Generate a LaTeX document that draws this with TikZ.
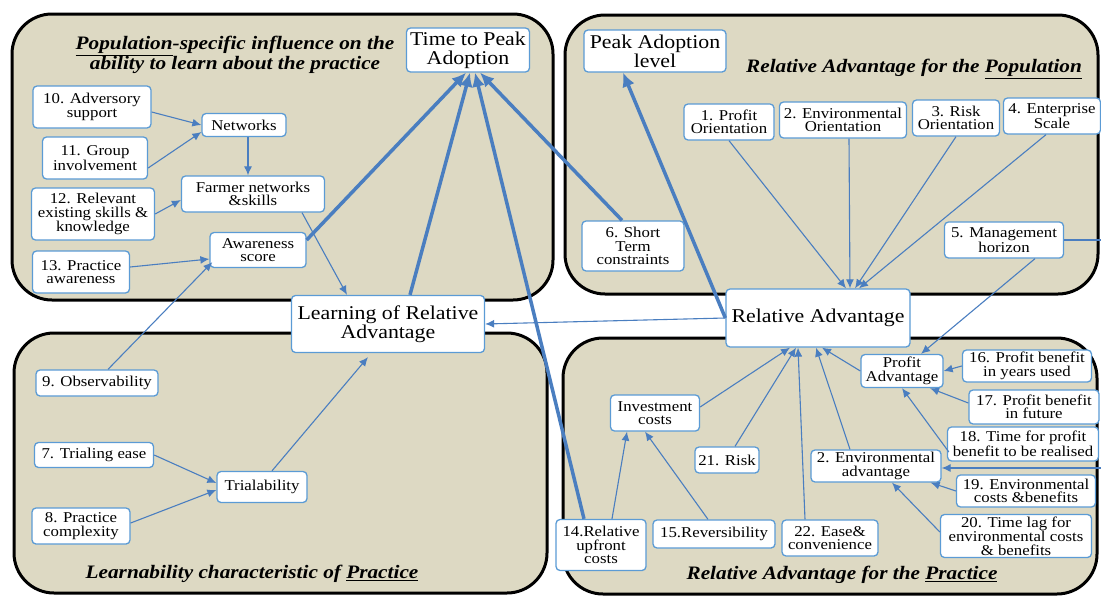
\documentclass[tikz,border=0pt]{standalone}
\usepackage{fontspec}
\setmainfont{Liberation Serif}[FakeStretch=1.12]
\usetikzlibrary{arrows.meta,positioning}
\definecolor{boxblue}{RGB}{91,155,213}
\definecolor{linkblue}{RGB}{74,126,192}
\definecolor{panelbeige}{RGB}{221,217,195}

\begin{document}
\begin{tikzpicture}[x=1pt,y=-1pt,
    panel/.style={draw=black, line width=3pt, fill=panelbeige, rounded corners=40pt},
    box/.style={draw=boxblue, line width=1.3pt, fill=white, rounded corners=4pt, align=center, inner sep=1pt, font=\fontsize{15}{13.5}\selectfont},
    bigbox/.style={box, font=\fontsize{19.5}{19}\selectfont},
    paneltitle/.style={align=center, font=\fontsize{19}{19.5}\selectfont\bfseries\itshape},
    link/.style={-{Latex[length=9pt,width=8pt]}, draw=linkblue, line width=1.1pt},
    mainlink/.style={-{Latex[length=14pt,width=13pt]}, draw=linkblue, line width=3.5pt}]
    \useasboundingbox (0,0) rectangle (1101,597);

    % the four areas
    \draw[panel] (12,14) rectangle (553,300);
    \draw[panel] (565,15) rectangle (1098,294);
    \draw[panel] (14,333) rectangle (547,593);
    \draw[panel] (563,338) rectangle (1097,594);

    \node[paneltitle] (tltitle) at (235,55) {\underline{Population}-specific influence on the\\ability to learn about the practice};
    \node[paneltitle] (trtitle) at (914,69) {Relative Advantage for the \underline{Population}};
    \node[paneltitle] (bltitle) at (252,574) {Learnability characteristic of \underline{Practice}};
    \node[paneltitle] (brtitle) at (842,575) {Relative Advantage for the \underline{Practice}};

    % outcome nodes
    \node[bigbox, minimum width=123pt, minimum height=44pt] (ttpa) at (468,50) {Time to Peak\\Adoption};
    \node[bigbox, minimum width=142pt, minimum height=42pt] (pal) at (655,51) {Peak Adoption\\level};
    \node[bigbox, minimum width=193pt, minimum height=57pt] (lra) at (388,324) {Learning of Relative\\Advantage};
    \node[bigbox, minimum width=184pt, minimum height=58pt] (ra) at (818,318) {Relative Advantage};

    % population learning
    \node[box, minimum width=118pt, minimum height=42pt] (n10) at (92,107) {10. Adversory\\support};
    \node[box, minimum width=84pt, minimum height=23pt] (netw) at (244,125) {Networks};
    \node[box, minimum width=105pt, minimum height=42pt] (n11) at (95,158) {11. Group\\involvement};
    \node[box, minimum width=143pt, minimum height=36pt] (fns) at (253,194) {Farmer networks\\\&skills};
    \node[box, minimum width=123pt, minimum height=52pt] (n12) at (93,214) {12. Relevant\\existing skills \&\\knowledge};
    \node[box, minimum width=96pt, minimum height=35pt] (aws) at (258,250) {Awareness\\score};
    \node[box, minimum width=97pt, minimum height=42pt] (n13) at (81,272) {13. Practice\\awareness};

    % practice learnability
    \node[box, minimum width=122pt, minimum height=26pt] (n9) at (97,383) {9. Observability};
    \node[box, minimum width=119pt, minimum height=25pt] (n7) at (94,455) {7. Trialing ease};
    \node[box, minimum width=90pt, minimum height=31pt] (trial) at (262,487) {Trialability};
    \node[box, minimum width=98pt, minimum height=36pt] (n8) at (81,526) {8. Practice\\complexity};

    % population advantage
    \node[box, minimum width=90pt, minimum height=36pt] (n1) at (729,122) {1. Profit\\Orientation};
    \node[box, minimum width=127pt, minimum height=36pt] (n2o) at (843,120) {2. Environmental\\Orientation};
    \node[box, minimum width=87pt, minimum height=36pt] (n3) at (956,118) {3. Risk\\Orientation};
    \node[box, minimum width=97pt, minimum height=36pt] (n4) at (1052,116) {4. Enterprise\\Scale};
    \node[box, minimum width=119pt, minimum height=36pt] (n5) at (1004,240) {5. Management\\horizon};
    \node[box, minimum width=102pt, minimum height=50pt] (n6) at (633,246) {6. Short\\Term\\constraints};

    % practice advantage
    \node[box, minimum width=82pt, minimum height=33pt] (pa) at (902,371) {Profit\\Advantage};
    \node[box, minimum width=129pt, minimum height=32pt] (n16) at (1027,366) {16. Profit benefit\\in years used};
    \node[box, minimum width=130pt, minimum height=34pt] (n17) at (1034,407) {17. Profit benefit\\in future};
    \node[box, minimum width=151pt, minimum height=34pt] (n18) at (1023,444) {18. Time for profit\\benefit to be realised};
    \node[box, minimum width=89pt, minimum height=36pt] (ic) at (655,413) {Investment\\costs};
    \node[box, minimum width=64pt, minimum height=26pt] (n21) at (727,460) {21. Risk};
    \node[box, minimum width=130pt, minimum height=32pt] (ea) at (876,466) {2. Environmental\\advantage};
    \node[box, minimum width=139pt, minimum height=32pt] (n19) at (1026,491) {19. Environmental\\costs \&benefits};
    \node[box, minimum width=151pt, minimum height=43pt] (n20) at (1016,536) {20. Time lag for\\environmental costs\\\& benefits};
    \node[box, minimum width=90pt, minimum height=51pt] (n14) at (601,545) {14.Relative\\upfront\\costs};
    \node[box, minimum width=122pt, minimum height=28pt] (n15) at (714,534) {15.Reversibility};
    \node[box, minimum width=96pt, minimum height=36pt] (n22) at (830,538) {22. Ease\&\\convenience};

    \coordinate (rimtop) at (1101,240);
    \coordinate (rimbot) at (1101,468);

    % thin links
    \draw[link] ([yshift=-5pt]n10.east) -- (netw.west);
    \draw[link] ([yshift=-10pt]n11.east) -- ([yshift=-7pt]netw.west);
    \draw[link] ([xshift=4pt]netw.south) -- ([xshift=-5pt]fns.north);
    \draw[link] (n12.east) -- ([yshift=-6pt]fns.west);
    \draw[link] ([xshift=49pt]fns.south) -- ([xshift=-41pt]lra.north);
    \draw[link] ([yshift=5pt]n13.east) -- ([yshift=-9pt]aws.west);
    \draw[link] ([xshift=11pt]n9.north) -- ([xshift=3pt,yshift=6pt]aws.south west);
    \draw[link] (n7.east) -- ([yshift=4pt]trial.west);
    \draw[link] ([yshift=3pt]n8.east) -- ([yshift=-3pt]trial.west);
    \draw[link] ([xshift=10pt]trial.north) -- ([xshift=-20pt,yshift=-4pt]lra.south);
    \draw[link] (ra.west) -- (lra.east);
    \draw[link] (n1.south) -- ([xshift=28pt]ra.north);
    \draw[link] ([xshift=6pt]n2o.south) -- ([xshift=32pt]ra.north);
    \draw[link] (n3.south) -- ([xshift=37pt]ra.north);
    \draw[link] ([xshift=-6pt]n4.south) -- ([xshift=41pt]ra.north);
    \draw[draw=linkblue, line width=1.1pt] (rimtop) -- (n5.east);
    \draw[link] ([xshift=31pt]n5.south) -- ([xshift=19pt]pa.north);
    \draw[link] (n16.west) -- (pa.east);
    \draw[link] ([yshift=4pt]n17.west) -- ([xshift=28pt]pa.south);
    \draw[link] ([xshift=2pt,yshift=-8pt]n18.west) -- (pa.south);
    \draw[link] (pa.west) -- ([xshift=4pt]ra.south);
    \draw[link] ([xshift=-26pt]ea.north) -- ([xshift=-2pt]ra.south);
    \draw[link] ([xshift=-25pt]n22.north) -- ([xshift=-20pt]ra.south);
    \draw[link] ([xshift=8pt]n21.north) -- ([xshift=-22pt]ra.south);
    \draw[link] ([yshift=6pt]ic.east) -- ([xshift=-28pt]ra.south);
    \draw[link] ([xshift=11pt]n14.north) -- ([xshift=-28pt]ic.south);
    \draw[link] ([xshift=-6pt]n15.north) -- ([xshift=-10pt]ic.south);
    \draw[link] (rimbot) -- ([yshift=-2pt]ea.east);
    \draw[link] (n19.west) -- ([xshift=-11pt]ea.south east);
    \draw[link] ([yshift=4pt]n20.west) -- ([xshift=16pt]ea.south);

    % thick links
    \draw[mainlink] ([yshift=10pt]aws.east) -- ([xshift=-2pt]ttpa.south);
    \draw[mainlink] ([xshift=22pt]lra.north) -- ([xshift=2pt]ttpa.south);
    \draw[mainlink] ([xshift=-17pt]n14.north) -- ([xshift=7pt]ttpa.south);
    \draw[mainlink] ([xshift=-11pt]n6.north) -- ([xshift=12pt]ttpa.south);
    \draw[mainlink] (ra.west) -- ([xshift=-32pt]pal.south);
\end{tikzpicture}
\end{document}
